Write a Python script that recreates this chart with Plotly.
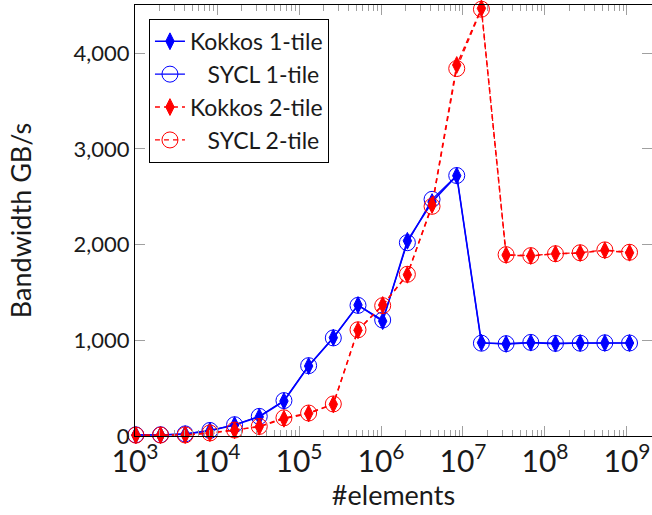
import plotly.graph_objects as go

# number of elements (x)
elements = [1024, 2048, 4096, 8192, 16384, 32768, 65536, 131072, 262144, 524288,
            1048576, 2097152, 4194304, 8388608, 16777216, 33554432, 67108864,
            134217728, 268435456, 536870912, 1073741824]

kokkos_1tile = [10, 11, 20, 55, 115, 200, 365, 731, 1028, 1369, 1200, 2040, 2445,
                2720, 975, 962, 975, 965, 972, 972, 972]
sycl_1tile = [12, 13, 22, 58, 118, 205, 370, 735, 1025, 1365, 1212, 2020, 2473,
              2722, 970, 965, 978, 968, 970, 974, 972]
kokkos_2tile = [8, 9, 10, 30, 60, 97, 180, 235, 331, 1105, 1369, 1685, 2414, 3877,
                4469, 1891, 1881, 1905, 1912, 1940, 1915]
sycl_2tile = [9, 10, 11, 32, 62, 100, 190, 240, 335, 1110, 1362, 1690, 2400, 3840,
              4460, 1895, 1885, 1905, 1915, 1945, 1920]

PAD = "\u00a0" * 3
series_names = ["Kokkos 1-tile", PAD + "SYCL 1-tile", "Kokkos 2-tile", PAD + "SYCL 2-tile"]
y_ticks = [0, 1000, 2000, 3000, 4000]

FONT = "Lato"
BLUE = "#0000ff"
RED = "#ff0000"
GRAY = "#a0a0a0"
TXT = "#1a1a1a"

fig = go.Figure()
fig.add_trace(go.Scatter(
    x=elements, y=kokkos_1tile, name=series_names[0], mode="lines+markers",
    line=dict(color=BLUE, width=1.6),
    marker=dict(symbol="diamond-tall", size=12, color=BLUE, line=dict(color=BLUE, width=1)),
    cliponaxis=False, legendgroup="a"))
fig.add_trace(go.Scatter(
    x=elements, y=sycl_1tile, name=series_names[1], mode="lines+markers",
    line=dict(color=BLUE, width=1.2),
    marker=dict(symbol="circle-open", size=16, color=BLUE, line=dict(color=BLUE, width=1)),
    cliponaxis=False, legendgroup="b"))
fig.add_trace(go.Scatter(
    x=elements, y=kokkos_2tile, name=series_names[2], mode="lines+markers",
    line=dict(color=RED, width=1.5, dash="5px,4px"),
    marker=dict(symbol="diamond-tall", size=12, color=RED, line=dict(color=RED, width=1)),
    cliponaxis=False, legendgroup="c"))
fig.add_trace(go.Scatter(
    x=elements, y=sycl_2tile, name=series_names[3], mode="lines+markers",
    line=dict(color=RED, width=1.2, dash="5px,4px"),
    marker=dict(symbol="circle-open", size=16, color=RED, line=dict(color=RED, width=1)),
    cliponaxis=False, legendgroup="d"))
# empty trace to host the right-hand tick axis
fig.add_trace(go.Scatter(x=[], y=[], yaxis="y2", showlegend=False, hoverinfo="skip"))

fig.update_layout(
    width=652, height=515,
    margin=dict(l=135, r=0, t=5, b=79),
    paper_bgcolor="white", plot_bgcolor="white",
    font=dict(family=FONT, size=21, color=TXT),
    showlegend=True,
    legend=dict(
        x=0.027, y=0.968, xanchor="left", yanchor="top",
        bordercolor="black", borderwidth=1, bgcolor="white",
        font=dict(family=FONT, size=23, color=TXT),
        tracegroupgap=0, traceorder="grouped",
    ),
    xaxis=dict(
        type="log", range=[3, 9.305], automargin=False,
        dtick=1, exponentformat="power",
        showgrid=False, zeroline=False,
        showline=True, linecolor="black", linewidth=1, mirror="ticks",
        ticks="inside", ticklen=10, tickcolor=GRAY, tickwidth=1,
        minor=dict(ticks="inside", ticklen=6, tickcolor=GRAY, dtick="D1", showgrid=False),
        tickfont=dict(family=FONT, size=24, color=TXT),
        title=dict(text="#elements", font=dict(family=FONT, size=27, color=TXT), standoff=6),
    ),
    yaxis=dict(
        range=[0, 4504], automargin=False,
        tickvals=y_ticks, tickformat=",",
        showgrid=False, zeroline=False,
        showline=True, linecolor="black", linewidth=1, mirror=False,
        ticks="inside", ticklen=10, tickcolor=GRAY, tickwidth=1,
        tickfont=dict(family=FONT, size=22, color=TXT),
        title=dict(text="Bandwidth GB/s", font=dict(family=FONT, size=27, color=TXT), standoff=34),
    ),
    yaxis2=dict(
        overlaying="y", side="right", matches="y", automargin=False,
        tickvals=y_ticks, showticklabels=False,
        showgrid=False, zeroline=False, showline=False,
        ticks="inside", ticklen=10, tickcolor=GRAY, tickwidth=1,
    ),
)

fig.write_html(
    "out.html",
    config={"displayModeBar": False},
    post_script="document.body.style.margin='0';document.body.style.overflow='hidden';",
)
